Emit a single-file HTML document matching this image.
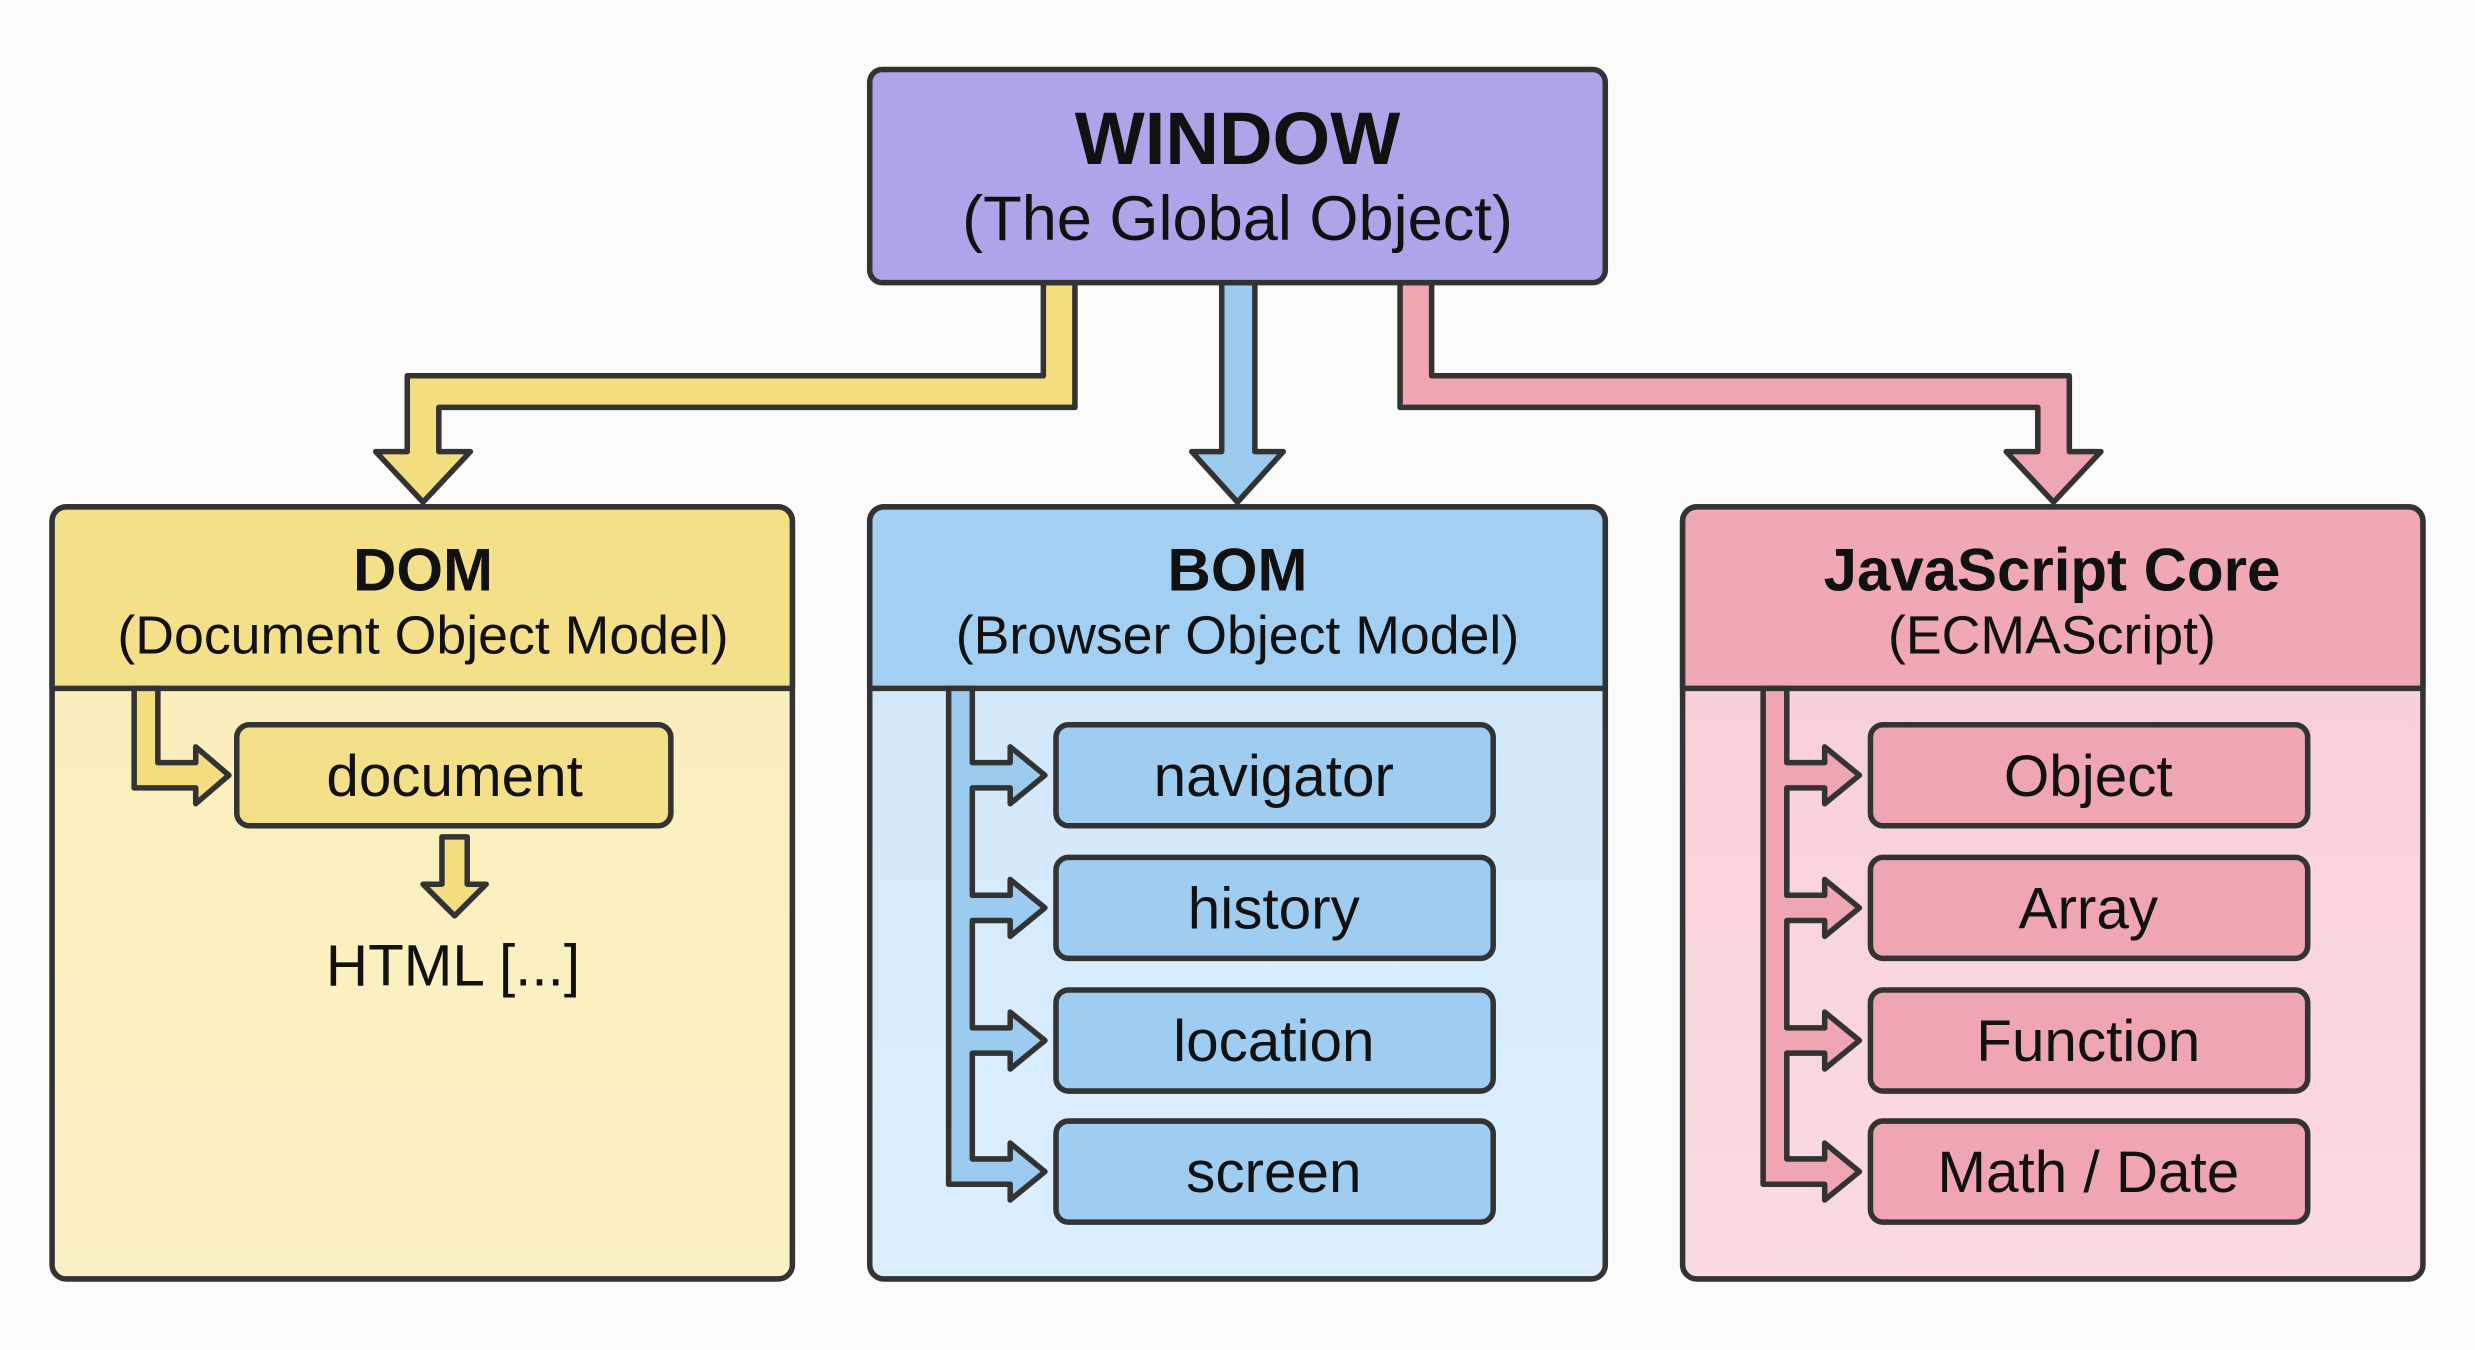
<!DOCTYPE html>
<html><head><meta charset="utf-8"><style>
html,body{margin:0;padding:0;background:#fbfbf9;}
svg{display:block;}
text{font-family:"Liberation Sans",sans-serif;fill:#111;text-anchor:middle;}
.t{font-weight:bold;font-size:38px;}
.s{font-size:34px;}
.i{font-size:37px;}
</style></head><body>
<svg width="2475" height="1350" viewBox="0 0 1568 855" preserveAspectRatio="none">
<defs>
<linearGradient id="gy" x1="0" y1="0" x2="0" y2="1"><stop offset="0" stop-color="#f9eeb8"/><stop offset="1" stop-color="#fbf1c6"/></linearGradient>
<linearGradient id="gb" x1="0" y1="0" x2="0" y2="1"><stop offset="0" stop-color="#cfe7fa"/><stop offset="1" stop-color="#dcefff"/></linearGradient>
<linearGradient id="gp" x1="0" y1="0" x2="0" y2="1"><stop offset="0" stop-color="#f8cdd5"/><stop offset="1" stop-color="#fadbe1"/></linearGradient>
</defs>
<rect width="1568" height="855" fill="#fbfbf9"/>
<g stroke="#333" stroke-width="3.5" stroke-linejoin="round">
<polygon fill="#f3df7f" points="661,179 681,179 681,258 278,258 278,286 298,286 268,318 238,286 258,286 258,238 661,238"/>
<polygon fill="#9ccbf0" points="774,179 795,179 795,286 813,286 784,318 755,286 774,286"/>
<polygon fill="#efa6b2" points="887,179 907,179 907,238 1311,238 1311,286 1331,286 1301,318 1271,286 1291,286 1291,258 887,258"/>
<rect x="551" y="44" width="466" height="135" rx="8" fill="#aea4ea"/>
<rect x="33" y="321" width="469" height="489" rx="9" fill="url(#gy)"/>
<path d="M33,436 V330 a9,9 0 0 1 9,-9 H493 a9,9 0 0 1 9,9 V436 Z" fill="#f5e08a"/>
<rect x="551" y="321" width="466" height="489" rx="9" fill="url(#gb)"/>
<path d="M551,436 V330 a9,9 0 0 1 9,-9 H1008 a9,9 0 0 1 9,9 V436 Z" fill="#a3d0f2"/>
<rect x="1066" y="321" width="469" height="489" rx="9" fill="url(#gp)"/>
<path d="M1066,436 V330 a9,9 0 0 1 9,-9 H1526 a9,9 0 0 1 9,9 V436 Z" fill="#f0a8b4"/>
<polygon fill="#f3df7f" points="85,436 85,499 124,499 124,509 145,491 124,473 124,483 100,483 100,436"/>
<rect x="150" y="459" width="275" height="64" rx="8" fill="#f5e08a"/>
<polygon fill="#f3df7f" points="280,530 296,530 296,560 308,560 288,580 268,560 280,560"/>
<polygon fill="#9ccbf0" points="601,436 601,750 640,750 640,760 662,742 640,724 640,734 616,734 616,667 640,667 640,677 662,659 640,641 640,651 616,651 616,583 640,583 640,593 662,575 640,557 640,567 616,567 616,499 640,499 640,509 662,491 640,473 640,483 616,483 616,436"/>
<rect x="669" y="459" width="277" height="64" rx="8" fill="#9fcdf1"/>
<rect x="669" y="543" width="277" height="64" rx="8" fill="#9fcdf1"/>
<rect x="669" y="627" width="277" height="64" rx="8" fill="#9fcdf1"/>
<rect x="669" y="710" width="277" height="64" rx="8" fill="#9fcdf1"/>
<polygon fill="#efa6b2" points="1117,436 1117,750 1156,750 1156,760 1178,742 1156,724 1156,734 1132,734 1132,667 1156,667 1156,677 1178,659 1156,641 1156,651 1132,651 1132,583 1156,583 1156,593 1178,575 1156,557 1156,567 1132,567 1132,499 1156,499 1156,509 1178,491 1156,473 1156,483 1132,483 1132,436"/>
<rect x="1185" y="459" width="277" height="64" rx="8" fill="#efa6b2"/>
<rect x="1185" y="543" width="277" height="64" rx="8" fill="#efa6b2"/>
<rect x="1185" y="627" width="277" height="64" rx="8" fill="#efa6b2"/>
<rect x="1185" y="710" width="277" height="64" rx="8" fill="#efa6b2"/>
</g>
<text x="784" y="104" style="font-weight:bold;font-size:47px">WINDOW</text>
<text x="784" y="152" style="font-size:40px">(The Global Object)</text>
<text class="t" x="268" y="374">DOM</text>
<text class="s" x="268" y="414">(Document Object Model)</text>
<text class="t" x="784" y="374">BOM</text>
<text class="s" x="784" y="414">(Browser Object Model)</text>
<text class="t" x="1300" y="374">JavaScript Core</text>
<text class="s" x="1300" y="414">(ECMAScript)</text>
<text class="i" x="288" y="504">document</text>
<text class="i" x="287" y="624">HTML [...]</text>
<text class="i" x="807" y="504">navigator</text>
<text class="i" x="807" y="588">history</text>
<text class="i" x="807" y="672">location</text>
<text class="i" x="807" y="755">screen</text>
<text class="i" x="1323" y="504">Object</text>
<text class="i" x="1323" y="588">Array</text>
<text class="i" x="1323" y="672">Function</text>
<text class="i" x="1323" y="755">Math / Date</text>
</svg>
</body></html>
